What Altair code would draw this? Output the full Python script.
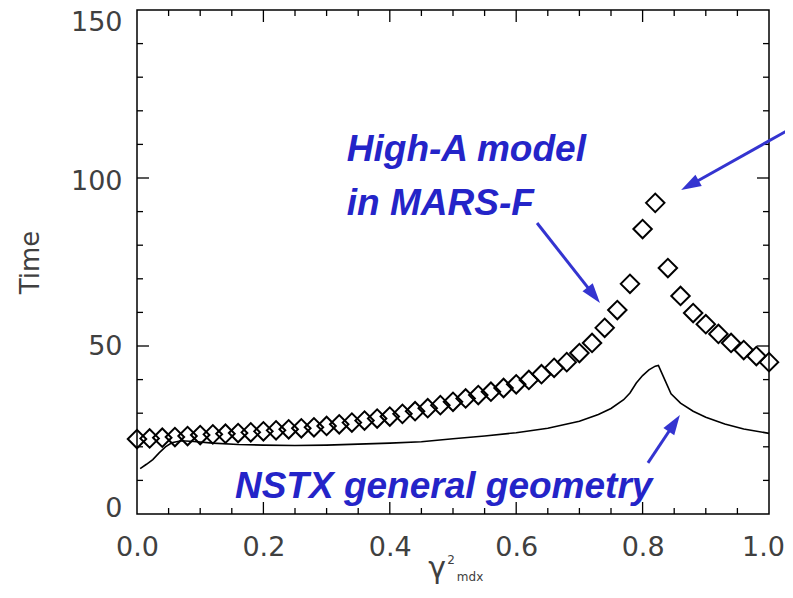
import math
import altair as alt
import pandas as pd

# ---------------- data ----------------
# High-A model in MARS-F (open diamonds)
mars_x = [0.00, 0.02, 0.04, 0.06, 0.08, 0.10, 0.12, 0.14, 0.16, 0.18,
          0.20, 0.22, 0.24, 0.26, 0.28, 0.30, 0.32, 0.34, 0.36, 0.38,
          0.40, 0.42, 0.44, 0.46, 0.48, 0.50, 0.52, 0.54, 0.56, 0.58,
          0.60, 0.62, 0.64, 0.66, 0.68, 0.70, 0.72, 0.74, 0.76, 0.78,
          0.80, 0.82, 0.84, 0.86, 0.88, 0.90, 0.92, 0.94, 0.96, 0.98, 1.00]
mars_y = [22.3, 22.5, 22.7, 22.9, 23.2, 23.5, 23.7, 23.9, 24.1, 24.3,
          24.6, 24.9, 25.2, 25.5, 25.8, 26.2, 26.7, 27.2, 27.8, 28.4,
          29.0, 29.8, 30.6, 31.5, 32.4, 33.4, 34.4, 35.4, 36.4, 37.5,
          38.6, 39.9, 41.6, 43.5, 45.2, 47.9, 50.9, 55.4, 60.7, 68.5,
          84.8, 92.6, 73.2, 64.9, 59.8, 56.5, 53.6, 50.9, 48.8, 47.0, 45.2]

# NSTX general geometry (solid line)
nstx_x = [0.005, 0.015, 0.025, 0.035, 0.045, 0.055, 0.07, 0.09, 0.12, 0.16,
          0.20, 0.25, 0.30, 0.35, 0.40, 0.45, 0.50, 0.55, 0.60, 0.65,
          0.70, 0.73, 0.75, 0.77, 0.78, 0.79, 0.80, 0.81, 0.82, 0.825,
          0.835, 0.845, 0.86, 0.88, 0.90, 0.93, 0.96, 1.00]
nstx_y = [13.5, 14.8, 16.2, 18.2, 20.0, 21.2, 21.8, 21.6, 21.1, 20.7,
          20.5, 20.4, 20.5, 20.8, 21.1, 21.5, 22.4, 23.2, 24.2, 25.5,
          27.6, 29.6, 31.4, 34.0, 36.0, 39.0, 41.2, 42.9, 44.0, 44.2,
          40.0, 35.8, 33.0, 30.6, 28.8, 26.8, 25.3, 24.0]

# axis ticks
x_labels = [0.0, 0.2, 0.4, 0.6, 0.8, 1.0]
x_minor = [0.05, 0.10, 0.15, 0.25, 0.30, 0.35, 0.45, 0.50, 0.55,
           0.65, 0.70, 0.75, 0.85, 0.90, 0.95]
x_major = [0.2, 0.4, 0.6, 0.8]
y_labels = [0, 50, 100, 150]
y_minor = [10, 20, 30, 40, 60, 70, 80, 90, 110, 120, 130, 140]
y_major = [50, 100]

# annotations (data coordinates)
notes = ["High-A model", "in MARS-F", "NSTX general geometry"]
notes_x = [0.332, 0.332, 0.155]
notes_y = [108.3, 92.4, 7.9]

# arrows: start -> tip (data coordinates)
arrow_x0 = [0.633, 1.045, 0.8085]
arrow_y0 = [86.6, 115.8, 15.2]
arrow_x1 = [0.7326, 0.861, 0.859]
arrow_y1 = [62.8, 96.4, 29.5]

# ---------------- layout ----------------
W, H = 632, 504
XMAX, YMAX = 1.0, 150.0
BLUE_TXT = "#2424c8"
BLUE_ARR = "#3434d0"
GRAY = "#404040"

xs = alt.Scale(domain=[0, XMAX], nice=False, zero=False)
ys = alt.Scale(domain=[0, YMAX], nice=False, zero=False)

mars = pd.DataFrame({"g": mars_x, "t": mars_y})
nstx = pd.DataFrame({"g": nstx_x, "t": nstx_y})

x_axis = alt.Axis(values=x_labels, format=".1f", ticks=False, domain=False, grid=False,
                  labelFont="DejaVu Sans", labelFontSize=27, labelColor=GRAY,
                  labelPadding=20, labelFlush=False,
                  labelOffset=alt.ExprRef("datum.value == 1 ? -6 : 0"),
                  title=None)
y_axis = alt.Axis(values=y_labels, format="d", ticks=False, domain=False, grid=False,
                  labelFont="DejaVu Sans", labelFontSize=27, labelColor=GRAY,
                  labelPadding=15, labelFlush=False,
                  labelOffset=alt.ExprRef(
                      "datum.value == 150 ? 12 : datum.value == 100 ? 3 : datum.value == 0 ? -6 : 0"),
                  title="Time",
                  titleFont="DejaVu Sans", titleFontSize=26,
                  titleFontWeight="normal", titleColor=GRAY, titlePadding=27)

diamonds = alt.Chart(mars).mark_point(
    shape="diamond", size=340, filled=False, color="black", strokeWidth=2, opacity=1
).encode(
    x=alt.X("g:Q", scale=xs, axis=x_axis),
    y=alt.Y("t:Q", scale=ys, axis=y_axis),
)

line = alt.Chart(nstx).mark_line(color="black", strokeWidth=1.6).encode(
    x=alt.X("g:Q", scale=xs),
    y=alt.Y("t:Q", scale=ys),
)

# inward ticks on all four sides
def xticks(vals, length):
    df = pd.DataFrame({"v": vals})
    bottom = alt.Chart(df).mark_rule(color="black", strokeWidth=1.3).encode(
        x=alt.X("v:Q", scale=xs),
        y=alt.value(H), y2=alt.value(H - length))
    top = alt.Chart(df).mark_rule(color="black", strokeWidth=1.3).encode(
        x=alt.X("v:Q", scale=xs),
        y=alt.value(0), y2=alt.value(length))
    return [bottom, top]

def yticks(vals, length):
    df = pd.DataFrame({"v": vals})
    left = alt.Chart(df).mark_rule(color="black", strokeWidth=1.3).encode(
        y=alt.Y("v:Q", scale=ys),
        x=alt.value(0), x2=alt.value(length))
    right = alt.Chart(df).mark_rule(color="black", strokeWidth=1.3).encode(
        y=alt.Y("v:Q", scale=ys),
        x=alt.value(W), x2=alt.value(W - length))
    return [left, right]

tick_layers = xticks(x_minor, 6) + xticks(x_major, 12) + yticks(y_minor, 6) + yticks(y_major, 12)

# annotation text
ann = pd.DataFrame({"label": notes, "x": notes_x, "y": notes_y})
ann_text = alt.Chart(ann).mark_text(
    font="Liberation Sans", fontSize=37, fontWeight="bold", fontStyle="italic",
    color=BLUE_TXT, align="left", baseline="middle"
).encode(
    x=alt.X("x:Q", scale=xs),
    y=alt.Y("y:Q", scale=ys),
    text="label:N",
)

# arrows
rows = []
for x0, y0, x1, y1 in zip(arrow_x0, arrow_y0, arrow_x1, arrow_y1):
    px0, py0 = x0 / XMAX * W, H - y0 / YMAX * H
    px1, py1 = x1 / XMAX * W, H - y1 / YMAX * H
    dx, dy = px1 - px0, py1 - py0
    L = math.hypot(dx, dy)
    ang = math.degrees(math.atan2(dx, -dy)) % 360
    back = 10.0 / L
    xe = x0 + (x1 - x0) * (1 - back)
    ye = y0 + (y1 - y0) * (1 - back)
    rows.append({"x0": x0, "y0": y0, "xe": xe, "ye": ye, "x1": x1, "y1": y1, "ang": ang})
arr = pd.DataFrame(rows)

shafts = alt.Chart(arr).mark_rule(color=BLUE_ARR, strokeWidth=3).encode(
    x=alt.X("x0:Q", scale=xs),
    y=alt.Y("y0:Q", scale=ys),
    x2="xe:Q", y2="ye:Q",
)
heads = alt.Chart(arr).mark_point(
    shape="M0,0L0.65,2L-0.65,2Z", size=400, filled=True, color=BLUE_ARR, opacity=1
).encode(
    x=alt.X("x1:Q", scale=xs),
    y=alt.Y("y1:Q", scale=ys),
    angle=alt.Angle("ang:Q", scale=None),
)

# x-axis title: gamma with superscript 2 and subscript mdx
xt_label = ["γ", "2", "mdx"]
xt_x = [0.475, 0.497, 0.527]
xt_y = [-19.0, -14.8, -19.8]
xt_size = [30, 12, 12]
xt = pd.DataFrame({"label": xt_label, "x": xt_x, "y": xt_y, "s": xt_size})
xtitle = alt.Chart(xt).mark_text(
    font="DejaVu Sans", color=GRAY, align="center", baseline="alphabetic"
).encode(
    x=alt.X("x:Q", scale=xs),
    y=alt.Y("y:Q", scale=ys),
    text="label:N",
    size=alt.Size("s:Q", scale=None, legend=None),
)

chart = alt.layer(
    diamonds, line, *tick_layers, shafts, heads, ann_text, xtitle
).properties(
    width=W, height=H,
    autosize=alt.AutoSizeParams(type="none"),
    padding={"left": 129, "top": 2, "right": 16, "bottom": 72},
    background="white",
).configure_view(stroke="black", strokeWidth=1.5)

chart.save("out.html", embed_options={"renderer": "svg", "actions": False})
